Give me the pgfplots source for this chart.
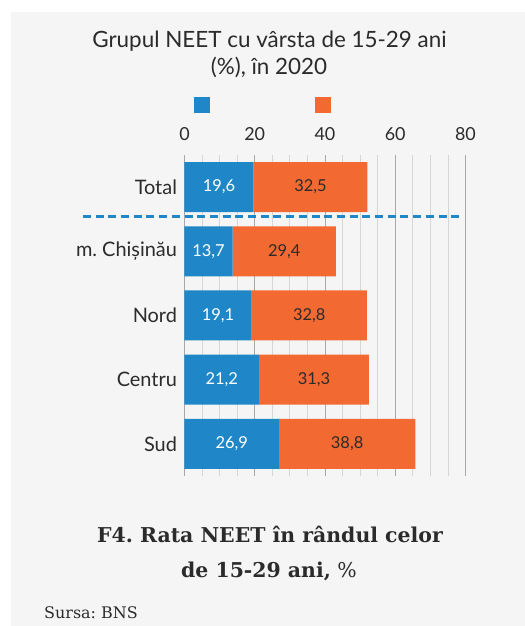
\documentclass[border=0pt]{standalone}
\usepackage{pgfplots}
\pgfplotsset{compat=1.18}
\usepackage{fontspec}
\setmainfont{Lato}
\newfontfamily\capfont{DejaVu Serif}
\frenchspacing

\definecolor{bg}{HTML}{F4F5F4}
\definecolor{blueC}{HTML}{1F87C8}
\definecolor{orangeC}{HTML}{F26A31}
\definecolor{txt}{HTML}{2B2B2B}
\definecolor{gmaj}{HTML}{A8A8A8}
\definecolor{gmin}{HTML}{D6D6D6}

% y: 4 = Total (top) ... 0 = Sud
\pgfplotstableread{
y v
4 19.6
3 13.7
2 19.1
1 21.2
0 26.9
}\blueT
\pgfplotstableread{
y v
4 32.5
3 29.4
2 32.8
1 31.3
0 38.8
}\orangeT

\begin{document}
\begin{tikzpicture}[x=1bp,y=1bp]
% page: axis box south west corner sits at the origin
\fill[white] (-184.5,-150) rectangle (340.5,476);
\fill[bg] (-173.5,-150) rectangle (340.5,464);

% title
\node[anchor=base, text=txt, font=\fontsize{22.5}{27}\selectfont] at (85,428) {Grupul NEET cu vârsta de 15-29 ani};
\node[anchor=base, text=txt, font=\fontsize{22.5}{27}\selectfont] at (84.5,401) {(\%), în 2020};

% legend keys
\fill[blueC] (9.5,363) rectangle (25.5,379);
\fill[orangeC] (130.5,363) rectangle (146.5,379);

\begin{axis}[
  scale only axis, width=281bp, height=321bp,
  xbar stacked, bar width=50bp,
  xmin=0, xmax=80, ymin=-0.5, ymax=4.5,
  axis line style={draw=none},
  tick style={draw=none},
  xtick={0,20,...,80}, minor xtick={5,10,...,75},
  xmajorgrids, xminorgrids,
  major grid style={gmaj, line width=0.8bp},
  minor grid style={gmin, line width=0.8bp},
  xticklabel pos=upper,
  x tick label style={anchor=base, yshift=14bp, text=txt, font=\fontsize{18}{21}\selectfont},
  ytick={0,...,4},
  yticklabels={Sud,Centru,Nord,m. Chișinău,Total},
  y tick label style={anchor=east, xshift=-4bp, text=txt, font=\fontsize{20}{24}\selectfont},
  /pgf/number format/assume math mode=true,
  nodes near coords={\pgfmathprintnumber[use comma,fixed,fixed zerofill,precision=1]{\pgfplotspointmeta}},
  point meta=explicit,
  every node near coord/.append style={anchor=center, font=\fontsize{16.5}{19}\selectfont},
  clip=false,
]
\addplot[fill=blueC, draw=none, every node near coord/.append style={text=white}] table[x=v, y=y, meta=v] {\blueT};
\addplot[fill=orangeC, draw=none, every node near coord/.append style={text=txt}] table[x=v, y=y, meta=v] {\orangeT};
\draw[blueC, line width=2.7bp, dash pattern=on 8bp off 4.7bp] (axis cs:-28.9,3.54) -- (axis cs:79,3.54);
\end{axis}

% caption
\node[anchor=base, text=txt, font=\capfont\bfseries\fontsize{20.5}{25}\selectfont] at (85.5,-67) {F4. Rata NEET în rândul celor};
\node[anchor=base, text=txt, font=\capfont\fontsize{20.5}{25}\selectfont] at (84.5,-101) {\textbf{de 15-29 ani,} \%};
\node[anchor=base west, text=txt, inner sep=0, font=\capfont\fontsize{16}{19}\selectfont] at (-140.5,-142) {Sursa: BNS};
\end{tikzpicture}
\end{document}
